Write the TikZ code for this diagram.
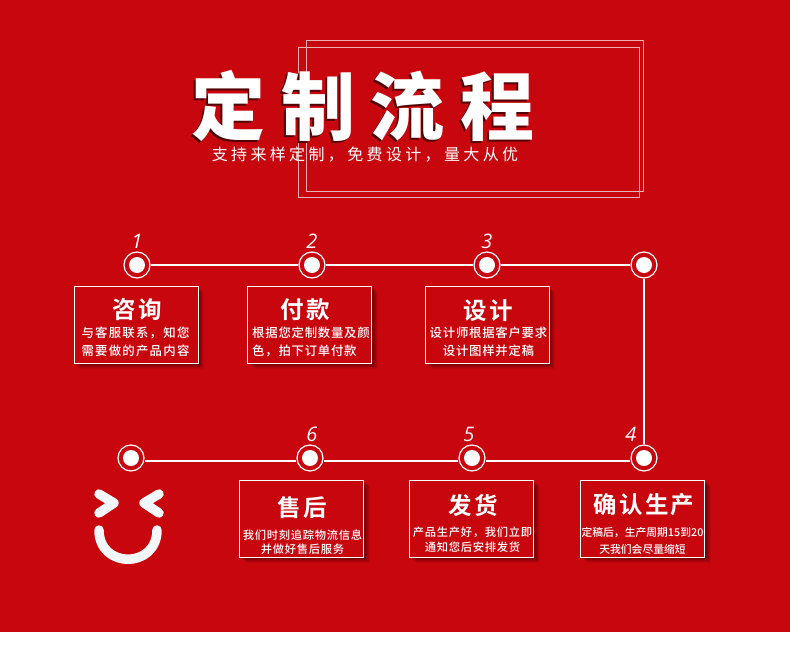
\documentclass[tikz,border=0pt]{standalone}
\usepackage{fontspec}
\setmainfont{Noto Sans CJK SC}
\newfontfamily\titlefont[LetterSpace=21]{Noto Sans CJK SC Black}
\newfontfamily\subfont[LetterSpace=21]{Noto Sans CJK SC}
\newfontfamily\headfont[LetterSpace=9]{Noto Sans CJK SC Bold}
\newfontfamily\bodyfont[LetterSpace=6]{Noto Sans CJK SC Medium}
\newfontfamily\wideface[LetterSpace=10]{Noto Sans CJK SC Medium}
\newfontfamily\tightface{Noto Sans CJK SC Medium}
\newfontfamily\numfont{Open Sans}
\usetikzlibrary{shadows}
\definecolor{bgred}{HTML}{C8060D}
\definecolor{framepink}{HTML}{EBB0B2}
\definecolor{facewhite}{HTML}{F3F7F9}
\tikzset{
ring/.style={shape=circle,draw=white,line width=1.2pt,inner sep=0pt,minimum size=26pt,
  path picture={\fill[white] (path picture bounding box.center) circle (8pt);}},
card/.style={shape=rectangle,draw=white,line width=0.9pt,fill=bgred,minimum width=124pt,minimum height=77pt,
  drop shadow={shadow xshift=6pt,shadow yshift=-6pt,fill=black,opacity=.05},
  drop shadow={shadow xshift=5pt,shadow yshift=-5pt,fill=black,opacity=.07},
  drop shadow={shadow xshift=4pt,shadow yshift=-4pt,fill=black,opacity=.09},
  drop shadow={shadow xshift=3pt,shadow yshift=-3pt,fill=black,opacity=.11},
  drop shadow={shadow xshift=2pt,shadow yshift=-2pt,fill=black,opacity=.13}},
head/.style={text=white,inner sep=0pt,font=\headfont\fontsize{23.5}{23.5}\selectfont},
body/.style={text=white,inner sep=0pt,align=center,font=\bodyfont\fontsize{12.4}{18}\selectfont},
num/.style={text=white,inner sep=0pt,font=\numfont\itshape\fontsize{20}{20}\selectfont},
link/.style={draw=white,line width=1.8pt},
frame/.style={draw=framepink,line width=1pt},
face/.style={draw=facewhite,line width=9.5pt,line cap=round,line join=round}
}
\begin{document}
\begin{tikzpicture}[x=1pt,y=-1pt]
\useasboundingbox (0,0) rectangle (790,662);
\fill[bgred] (0,0) rectangle (790,632);
\draw[frame] (306,40) rectangle (643,191);
\draw[frame] (298,47) rectangle (639,197);
\node(titleshadow)[text=black!60!bgred,inner sep=0pt,font=\titlefont\fontsize{74}{74}\selectfont] at (361,108){定制流程};
\node(title)[text=white,inner sep=0pt,font=\titlefont\fontsize{74}{74}\selectfont] at (363,106){定制流程};
\node(subtitle)[text=white,inner sep=0pt,font=\subfont\fontsize{16}{16}\selectfont] at (365,155){支持来样定制，免费设计，量大从优};
\node(dot1)[ring] at (137,265){};
\node(dot2)[ring] at (312,265){};
\node(dot3)[ring] at (487,265){};
\node(corner)[ring] at (644,265){};
\node(dot4)[ring] at (644,458){};
\node(dot5)[ring] at (472,458){};
\node(dot6)[ring] at (310,458){};
\node(dotend)[ring] at (131,458){};
\draw[link] (dot1)--(dot2);
\draw[link] (dot2)--(dot3);
\draw[link] (dot3)--(corner);
\draw[link] (corner)--(dot4);
\draw[link] ([yshift=-3pt]dot4.west)--([yshift=-3pt]dot5.east);
\draw[link] ([yshift=-3pt]dot5.west)--([yshift=-3pt]dot6.east);
\draw[link] ([yshift=-3pt]dot6.west)--([yshift=-3pt]dotend.east);
\node(num1)[num] at (137,241){1};
\node(num2)[num] at (312,241){2};
\node(num3)[num] at (487,241){3};
\node(num4)[num] at (631,434){4};
\node(num5)[num] at (469,434){5};
\node(num6)[num] at (312,434){6};
\node(card1)[card] at (136,324.5){};
\node(card2)[card] at (309.5,324.5){};
\node(card3)[card] at (487,324.5){};
\node(card4)[card] at (642.5,518.5){};
\node(card5)[card] at (471.5,518.5){};
\node(card6)[card] at (301.5,518.5){};
\node(head1)[head] at (137,310){咨询};
\node(head2)[head] at (305,310){付款};
\node(head3)[head] at (488,311){设计};
\node(head4)[head] at (644,505){确认生产};
\node(head5)[head] at (473,505){发货};
\node(head6)[head] at (302,508){售后};
\node(body1)[body,font=\wideface\fontsize{12.4}{18}\selectfont] at (135.5,342){与客服联系，知您\\需要做的产品内容};
\node(body2)[body,align=left] at (311,342){根据您定制数量及颜\\色，拍下订单付款};
\node(body3)[body] at (488.5,342){设计师根据客户要求\\设计图样并定稿};
\node(body4)[body,font=\tightface\fontsize{10.8}{17}\selectfont] at (642.5,540.5){定稿后，生产周期15到20\\天我们会尽量缩短};
\node(body5)[body,font=\bodyfont\fontsize{11.3}{15}\selectfont] at (472.5,539.5){产品生产好，我们立即\\通知您后安排发货};
\node(body6)[body,font=\bodyfont\fontsize{11.3}{14}\selectfont] at (302.5,542){我们时刻追踪物流信息\\并做好售后服务};
\draw[face] (99,494)--(114,503)--(99,513);
\draw[face] (159,494)--(144,503)--(159,513);
\draw[face] (99,530) .. controls (99,569) and (157,569) .. (157,530);
\end{tikzpicture}
\end{document}
